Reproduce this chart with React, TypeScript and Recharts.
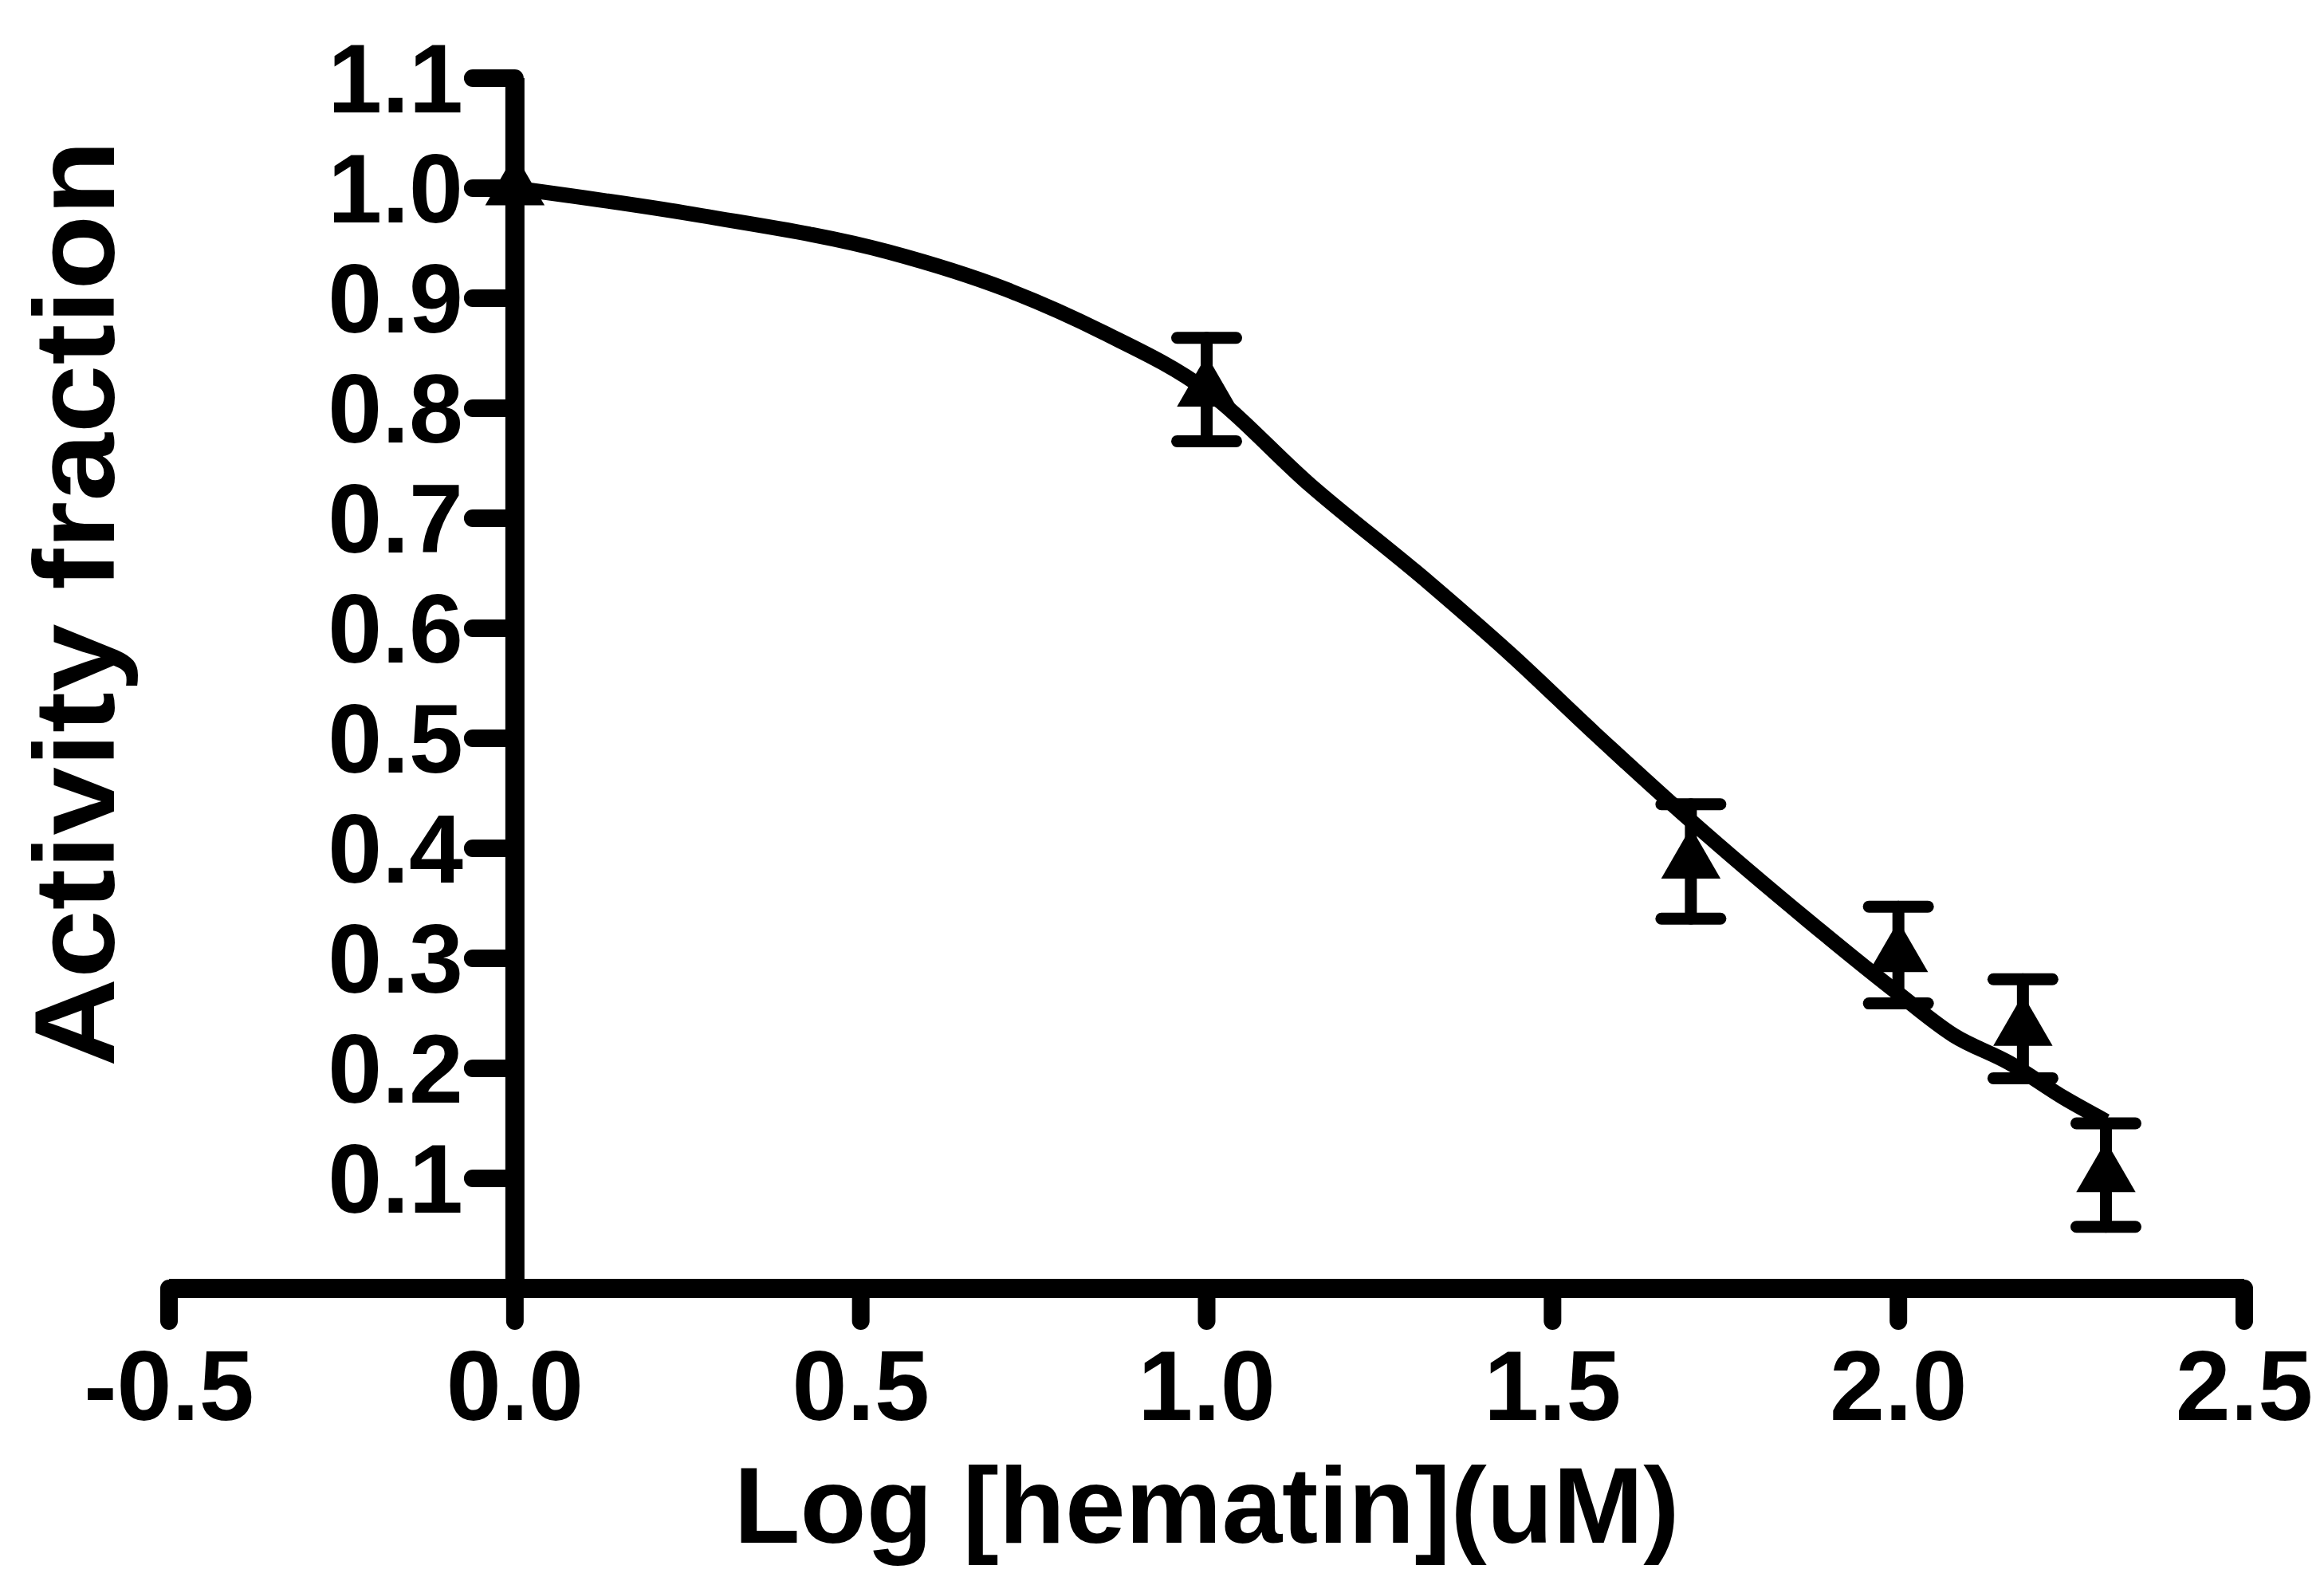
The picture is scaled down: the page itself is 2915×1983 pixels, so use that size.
import {
  ComposedChart,
  ErrorBar,
  Line,
  ReferenceLine,
  Scatter,
  XAxis,
  YAxis,
  ZAxis,
} from "recharts";

const FONT = "'Liberation Sans', Arial, Helvetica, sans-serif";

// measured points: log [hematin] (uM) vs activity fraction, with SEM
const logConc = [0, 1.0, 1.7, 2.0, 2.18, 2.3];
const activity = [1.0, 0.817, 0.388, 0.303, 0.236, 0.103];
const activityErr: (number | null)[] = [null, 0.047, 0.052, 0.044, 0.045, 0.047];

// fitted curve
const fitLogConc = [0, 0.27, 0.54, 0.71, 0.85, 1.0, 1.15, 1.32, 1.44, 1.56, 1.7, 1.87, 2.0, 2.08, 2.16, 2.24, 2.3];
const fitActivity = [1.0, 0.975, 0.942, 0.908, 0.869, 0.816, 0.73, 0.642, 0.576, 0.505, 0.425, 0.334, 0.268, 0.23, 0.205, 0.173, 0.152];

const xTicks = [-0.5, 0, 0.5, 1.0, 1.5, 2.0, 2.5];
const yTicks = [0.1, 0.2, 0.3, 0.4, 0.5, 0.6, 0.7, 0.8, 0.9, 1.0, 1.1];

// y axis sits at x = 0, so its ticks are drawn as short segments (length in x units)
const Y_TICK_LEN = 0.061;

function YTitle(props: any) {
  const vb = props.viewBox ?? { x: 0, y: 98, width: 212, height: 1518 };
  const cx = vb.x + 93;
  const cy = vb.y + vb.height / 2 - 100;
  return (
    <text
      x={cx}
      y={cy}
      transform={`rotate(-90 ${cx} ${cy})`}
      textAnchor="middle"
      dominantBaseline="central"
      fontFamily={FONT}
      fontWeight="bold"
      fontSize={142}
      textLength={1162}
      lengthAdjust="spacingAndGlyphs"
      fill="#000"
    >
      Activity fraction
    </text>
  );
}

function XTitle(props: any) {
  const vb = props.viewBox ?? { x: 212, y: 1616, width: 2603, height: 367 };
  return (
    <text
      x={vb.x + vb.width / 2}
      y={vb.y + vb.height - 48}
      textAnchor="middle"
      fontFamily={FONT}
      fontWeight="bold"
      fontSize={136}
      fill="#000"
    >
      Log [hematin](uM)
    </text>
  );
}

export default function App() {
  const points = logConc.map((x, i) => ({ x, y: activity[i], err: activityErr[i] }));
  const fit = fitLogConc.map((x, i) => ({ x, y: fitActivity[i] }));

  return (
    <div style={{ position: "absolute", left: 0, top: 0, width: 2915, height: 1983, background: "#fff" }}>
      <ComposedChart width={2915} height={1983} margin={{ top: 98, right: 100, bottom: 0, left: 0 }}>
        <XAxis
          dataKey="x"
          type="number"
          domain={[-0.5, 2.5]}
          allowDataOverflow
          ticks={xTicks}
          tickFormatter={(v) => Number(v).toFixed(1)}
          height={367}
          tickSize={41}
          tickMargin={36}
          axisLine={{ stroke: "#000", strokeWidth: 24 }}
          tickLine={{ stroke: "#000", strokeWidth: 22, strokeLinecap: "round" }}
          tick={{ fill: "#000", fontSize: 124, fontWeight: "bold", fontFamily: FONT }}
          label={{ content: XTitle }}
        />
        <YAxis
          dataKey="y"
          type="number"
          domain={[0, 1.1]}
          allowDataOverflow
          width={212}
          tick={false}
          tickLine={false}
          axisLine={false}
          label={{ content: YTitle }}
        />
        <ZAxis range={[2400, 2400]} />

        {/* y axis at x = 0 */}
        {yTicks.map((v) => (
          <ReferenceLine
            key={v}
            segment={[{ x: -Y_TICK_LEN, y: v }, { x: 0, y: v }]}
            stroke="#000"
            strokeWidth={22}
            strokeLinecap="round"
            label={{
              value: v.toFixed(1),
              position: "left",
              offset: 12,
              fill: "#000",
              fontSize: 122,
              fontWeight: "bold",
              fontFamily: FONT,
            }}
          />
        ))}
        <ReferenceLine x={0} stroke="#000" strokeWidth={24} />

        <Line
          data={fit}
          dataKey="y"
          type="monotone"
          dot={false}
          activeDot={false}
          stroke="#000"
          strokeWidth={19}
          isAnimationActive={false}
        />
        <Scatter data={points} dataKey="y" shape="triangle" fill="#000" isAnimationActive={false}>
          <ErrorBar
            dataKey="err"
            direction="y"
            width={37}
            stroke="#000"
            strokeWidth={15}
            strokeLinecap="round"
            isAnimationActive={false}
          />
        </Scatter>
      </ComposedChart>
    </div>
  );
}
